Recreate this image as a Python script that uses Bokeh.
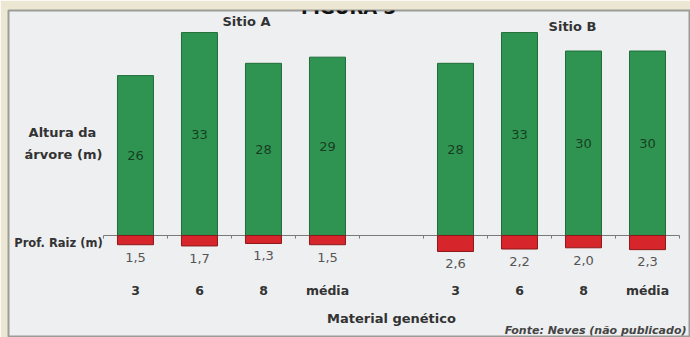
from bokeh.plotting import figure
from bokeh.models import Label, Range1d, ColumnDataSource
from bokeh.core.properties import value
from bokeh.embed import file_html
from bokeh.resources import INLINE

# ---- data ----
categorias = ["3", "6", "8", "média"]
altura_A = [26, 33, 28, 29]
altura_B = [28, 33, 30, 30]
raiz_A = [1.5, 1.7, 1.3, 1.5]
raiz_B = [2.6, 2.2, 2.0, 2.3]
sitios = ["Sitio A", "Sitio B"]

# ---- layout helpers ----
GAP = 5  # position offset of second site
xA = list(range(len(categorias)))
xB = [i + GAP for i in xA]
xs = xA + xB
alturas = altura_A + altura_B
raizes = raiz_A + raiz_B
cats = categorias + categorias

def fmt(v):
    return ("%.1f" % v).replace(".", ",")

FONTNAME = "DejaVu Sans"
FONT = value(FONTNAME)
W_BAR = 0.5625

p = figure(width=690, height=337, output_backend="svg", toolbar_location=None,
           x_range=Range1d(-1.984, 8.672), y_range=Range1d(-16.59, 36.59),
           min_border_left=8, min_border_top=10, min_border_right=0, min_border_bottom=0)
p.axis.visible = False
p.grid.visible = False
p.border_fill_color = "#ece7d3"
p.background_fill_color = "#eeeff1"
p.outline_line_color = "#9c9c98"
p.outline_line_width = 2

# axis line with ticks between categories
p.line([-0.5, max(xs) + 0.5], [0, 0], line_color="#7a7a7a", line_width=1)
ticks = sorted(set([x - 0.5 for x in xs] + [x + 0.5 for x in xs]))
p.segment(x0=ticks, y0=[0] * len(ticks), x1=ticks, y1=[-0.5] * len(ticks),
          line_color="#7a7a7a", line_width=1)

src = ColumnDataSource(dict(
    x=xs, h=alturas, r=[-v for v in raizes], half=[v / 2 for v in alturas],
    hl=[str(v) for v in alturas], rl=[fmt(v) for v in raizes],
    rly=[-v - 2.0 for v in raizes], cat=cats, caty=[-8.9] * len(xs)))

p.vbar(x="x", top="h", bottom=0, width=W_BAR, source=src,
       fill_color="#2f9452", line_color="#1f6e3a", line_width=1)
p.vbar(x="x", top=0, bottom="r", width=W_BAR, source=src,
       fill_color="#d6252b", line_color="#8a1a1a", line_width=1)

p.text(x="x", y="half", text="hl", source=src, text_align="center",
       text_baseline="middle", text_font=FONT, text_font_size="13px",
       text_color="#173f22")
p.text(x="x", y="rly", text="rl", source=src, text_align="center",
       text_baseline="middle", text_font=FONT, text_font_size="13px",
       text_color="#555555")
p.text(x="x", y="caty", text="cat", source=src, text_align="center",
       text_baseline="middle", text_font=FONT, text_font_size="12.5px",
       text_font_style="bold", text_color="#333333")

def px_x(px):
    return (px - 135) / 64.0

def px_y(py):
    return (235 - py) / 6.15

def lab(text, px, py, size, style="bold", align="center", color="#333333", baseline="middle"):
    p.add_layout(Label(x=px_x(px), y=px_y(py), text=text, text_align=align,
                       text_baseline=baseline, text_font=FONTNAME, text_font_size=size,
                       text_font_style=style, text_color=color))

lab(sitios[0], 246, 21, "13px")
lab(sitios[1], 572, 26, "13px")
lab("Altura da", 62, 132, "13px")
lab("árvore (m)", 63, 154, "13px")
lab("Prof. Raiz (m)", 58, 243, "11.5px")
lab("Material genético", 391, 318, "13px")
lab("Fonte: Neves (não publicado)", 686, 330, "11px", style="bold italic",
    align="right", color="#444444", baseline="alphabetic")
lab("FIGURA 3", 348, 7, "18px", color="#111111", baseline="alphabetic")

open("out.html", "w").write(file_html(p, INLINE))
